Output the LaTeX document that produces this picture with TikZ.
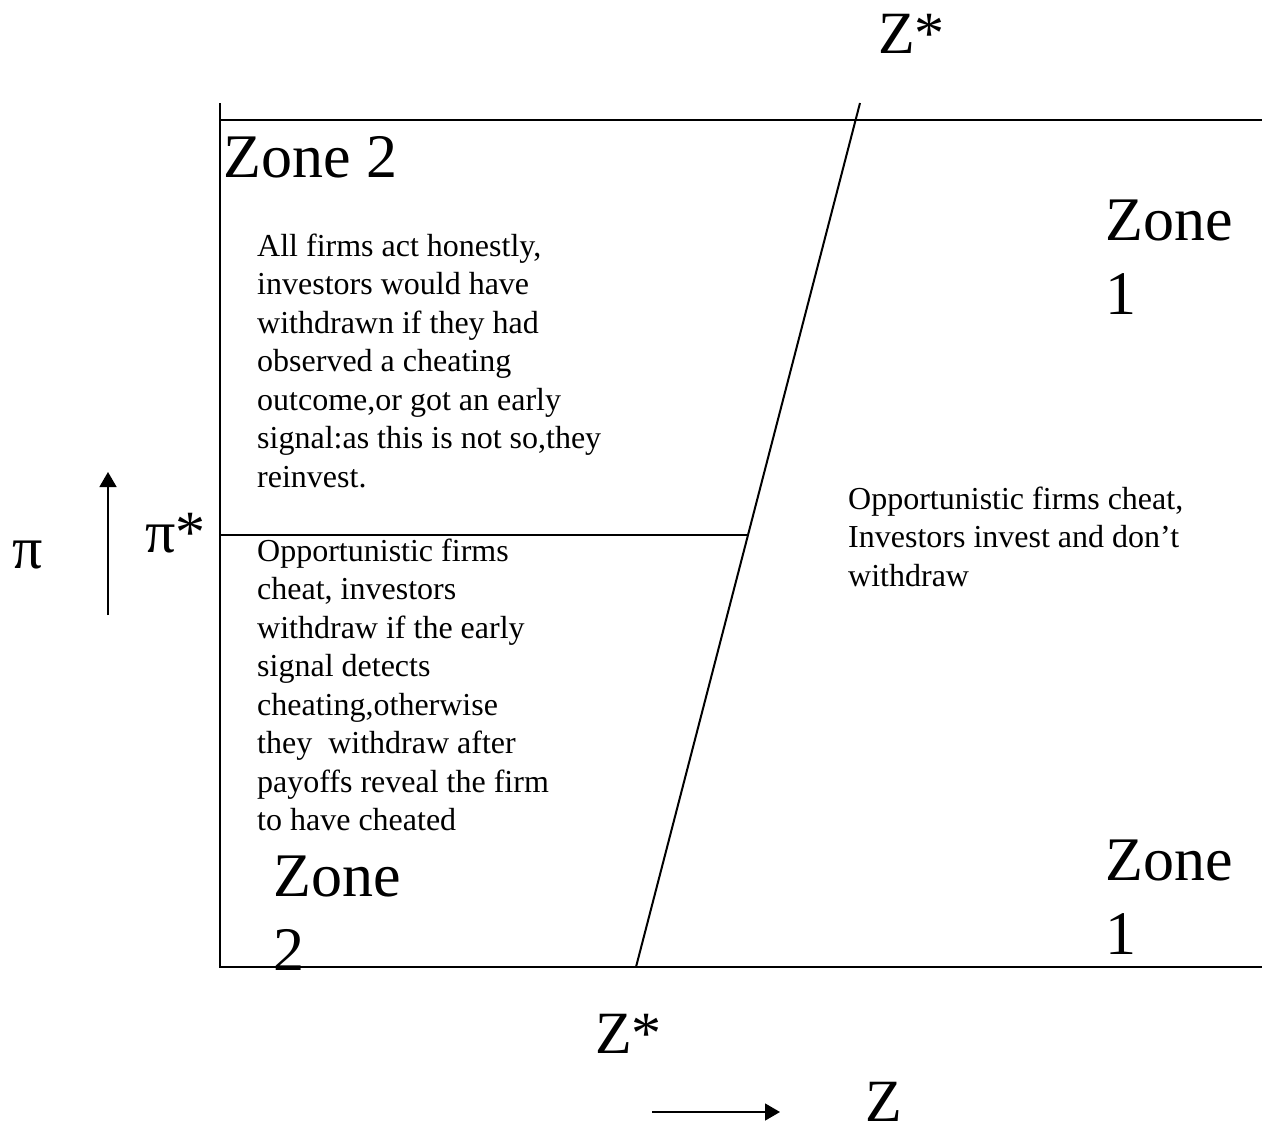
\documentclass[tikz,border=0pt]{standalone}
\usepackage{fontspec}
\setmainfont{Liberation Serif}
\usetikzlibrary{arrows.meta,calc}
\begin{document}
\begin{tikzpicture}[x=1pt,y=-1pt,
  ln/.style={line width=2pt},
  big/.style={font=\fontsize{62}{74}\selectfont, inner sep=0pt, anchor=base west, align=left},
  lbl/.style={font=\fontsize{60}{72}\selectfont, inner sep=0pt, anchor=base west},
  body/.style={font=\fontsize{32}{38.5}\selectfont, inner sep=0pt, anchor=base west, align=left},
  arr/.style={line width=1.5pt,-{Triangle[length=15pt,width=17pt]}}]
\useasboundingbox[fill=white] (0,0) rectangle (1262,1128);
\coordinate (TL) at (220,103);
\coordinate (BL) at (220,967);
\coordinate (T0) at (220,120);
\coordinate (T1) at (1262,120);
\coordinate (B1) at (1262,967);
\coordinate (S0) at (636,967);
\coordinate (S1) at (860,103);
\coordinate (M0) at (220,535);
\coordinate (M1) at ($(S0)!0.5!(S1)$);
\draw[ln] (TL) -- (BL) -- (B1);
\draw[ln] (T0) -- (T1);
\draw[ln] (S0) -- (S1);
\draw[ln] (M0) -- (M1);
\coordinate (VA0) at (108,615);
\coordinate (VA1) at (108,472);
\coordinate (HA0) at (652,1112);
\coordinate (HA1) at (780,1112);
\draw[arr] (VA0) -- (VA1);
\draw[arr] (HA0) -- (HA1);
\node[lbl] (zstartop) at (878,53) {Z*};
\node[lbl] (zstarbot) at (595,1053) {Z*};
\node[lbl] (zlab) at (865,1121) {Z};
\node[lbl] (pilab) at (12,568) {π};
\node[lbl] (pistar) at (145,552) {π*};
\node[big] (z2top) at (223,177) {Zone 2};
\node[big] (z1top) at (1105,314) {Zone\\1};
\node[big] (z1bot) at (1105,954) {Zone\\1};
\node[big] (z2bot) at (273,970) {Zone\\2};
\node[body] (txt2) at (257,487) {All firms act honestly,\\investors would have\\withdrawn if they had\\observed a cheating\\outcome,or got an early\\signal:as this is not so,they\\reinvest.};
\node[body] (txt3) at (257,830.5) {Opportunistic firms\\cheat, investors\\withdraw if the early\\signal detects\\cheating,otherwise\\they\ \ withdraw after\\payoffs reveal the firm\\to have cheated};
\node[body] (txt1) at (848,586) {Opportunistic firms cheat,\\Investors invest and don’t\\withdraw};
\end{tikzpicture}
\end{document}
